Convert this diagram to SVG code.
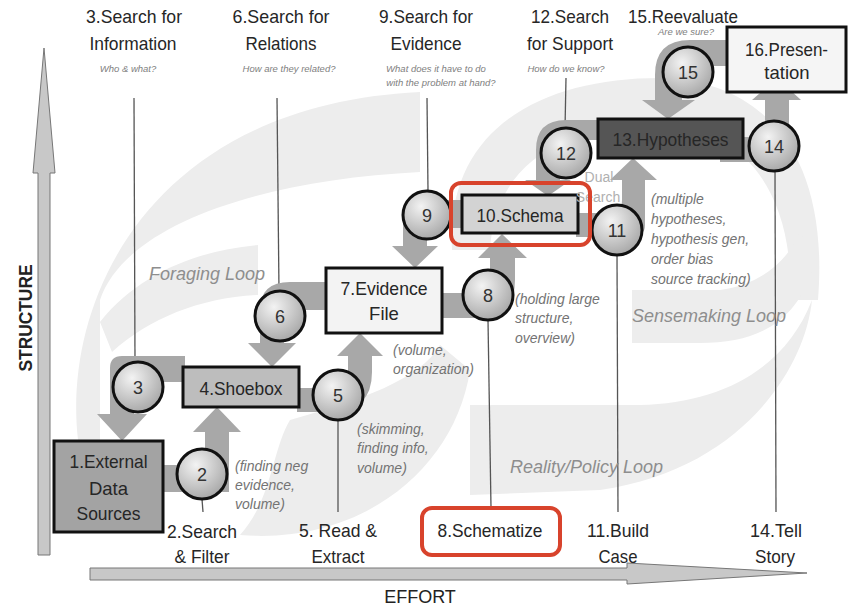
<svg xmlns="http://www.w3.org/2000/svg" width="849" height="607" viewBox="0 0 849 607">
  <defs>
    <radialGradient id="cg" cx="0.38" cy="0.32" r="0.72">
      <stop offset="0" stop-color="#f3f3f3"/>
      <stop offset="1" stop-color="#a6a6a6"/>
    </radialGradient>
    <style>
      text { font-family: "Liberation Sans", Arial, sans-serif; }
      .lbl { font-size: 18.5px; fill: #262626; text-anchor: middle; }
      .sub { font-size: 9.5px; font-style: italic; fill: #808080; text-anchor: middle; }
      .ann { font-size: 14px; font-style: italic; fill: #737373; }
      .loop { font-size: 18px; font-style: italic; fill: #8e8e8e; }
      .num { font-size: 18px; fill: #333; text-anchor: middle; }
      .dual { font-size: 14px; fill: #b0b0b0; text-anchor: middle; }
      .bg { fill: #ededed; }
      .flow { fill: #a8a8a8; }
      .lead { stroke: #555; stroke-width: 1.3; fill: none; }
      .box { stroke: #111; stroke-width: 3; }
      .circ { fill: url(#cg); stroke: #111; stroke-width: 3; }
      .hl { fill: none; stroke: #d8432c; stroke-width: 4; }
      .axis { fill: #c8c8c8; stroke: #777; stroke-width: 1; }
    </style>
  </defs>

  <rect width="849" height="607" fill="#fff"/>

  <!-- background loop bands -->
  <g id="loops">
    <path class="bg" d="M78 440 C62 300 150 105 420 92 L420 172 C260 180 125 225 100 300 L100 440 Z"/>
    <path class="bg" d="M100 322 C140 272 200 250 258 245 L258 295 C200 298 150 318 112 352 Z"/>
    <path class="bg" d="M240 535 C360 545 455 470 470 370 L440 345 C420 380 360 400 290 420 C272 450 272 500 240 535 Z"/>
    <path class="bg" d="M452 250 C445 130 540 78 660 78 C760 80 830 150 818 300 L790 300 C795 190 740 125 660 125 C560 125 495 165 490 250 Z"/>
    <path class="bg" d="M632 290 L720 290 C760 285 790 260 800 230 L814 262 C800 320 760 343 700 343 L632 343 Z"/>
    <path class="bg" d="M470 405 L640 405 C720 403 785 370 812 300 C805 370 740 470 600 490 L470 495 Z"/>
  </g>

  <!-- axes -->
  <g id="axes">
    <polygon class="axis" points="38,555 38,173 33,173 44,48 55,173 50,173 50,555"/>
    <polygon class="axis" points="90,568 627,568 627,563 807,573 627,584 627,580 90,580"/>
    <text transform="translate(32,318) rotate(-90)" text-anchor="middle" font-size="19" font-weight="bold" fill="#222" textLength="107" lengthAdjust="spacingAndGlyphs">STRUCTURE</text>
    <text x="420" y="603" text-anchor="middle" font-size="18" fill="#222">EFFORT</text>
  </g>

  <!-- connectors: leader lines and flow arrows -->
  <g id="connectors">
    <line class="lead" x1="134" y1="98" x2="135" y2="363"/>
    <line class="lead" x1="277" y1="98" x2="279" y2="292"/>
    <line class="lead" x1="427" y1="98" x2="428" y2="191"/>
    <line class="lead" x1="566" y1="78" x2="565" y2="129"/>
    <line class="lead" x1="202" y1="499" x2="203" y2="512"/>
    <line class="lead" x1="338" y1="420" x2="338" y2="512"/>
    <line class="lead" x1="488" y1="320" x2="491" y2="508"/>
    <line class="lead" x1="617" y1="254" x2="618" y2="512"/>
    <line class="lead" x1="775" y1="170" x2="776" y2="512"/>

    <!-- 4 -> 3 -> 1 -->
    <path class="flow" d="M185 356 L122 356 Q110 356 110 368 L110 414 L97 414 L122 441 L147 414 L134 414 L134 382 L185 382 Z"/>
    <!-- 1 -> 2 -> 4 -->
    <path class="flow" d="M160 465 L205 465 L205 432 L193 432 L217 407 L241 432 L229 432 L229 492 L160 492 Z"/>
    <!-- 7 -> 6 -> 4 -->
    <path class="flow" d="M327 282 L290 282 Q260 282 260 310 L260 343 L248 343 L272 367 L296 343 L284 343 L284 310 L327 310 Z"/>
    <!-- 4 -> 5 -> 7 -->
    <path class="flow" d="M297 388 L330 388 Q348 388 348 370 L348 356 L337 356 L360 333 L383 356 L372 356 L372 372 Q372 412 330 412 L297 412 Z"/>
    <!-- 10 -> 9 -> 7 -->
    <path class="flow" d="M464 200 L430 200 Q403 200 403 228 L403 246 L392 246 L415 268 L438 246 L427 246 L427 228 L464 228 Z"/>
    <!-- 7 -> 8 -> 10 -->
    <path class="flow" d="M440 293 L470 293 Q490 293 490 275 L490 258 L478 258 L502 234 L527 258 L515 258 L515 280 Q515 318 475 318 L440 318 Z"/>
    <!-- 13 -> 12 -> 10 -->
    <path class="flow" d="M600 120 L566 120 Q536 120 536 150 L536 180 L525 180 L548 196 L571 180 L560 180 L560 140 L600 140 Z"/>
    <!-- 10 -> 11 -> 13 -->
    <path class="flow" d="M576 213 L610 213 Q622 213 622 200 L622 180 L610 180 L633 158 L657 180 L645 180 L645 225 Q645 237 630 237 L576 237 Z"/>
    <!-- 16 -> 15 -> 13 -->
    <path class="flow" d="M729 40 L690 40 Q655 40 655 75 L655 100 L642 100 L668 119 L695 100 L682 100 L682 80 Q682 66 700 66 L729 66 Z"/>
    <!-- 13 -> 14 -> 16 -->
    <path class="flow" d="M720 137 L765 137 L765 100 L752 100 L777 78 L801 100 L789 100 L789 162 L720 162 Z"/>
  </g>

  <!-- boxes -->
  <g id="n1">
    <rect class="box" x="54" y="441" width="109" height="91" fill="#a3a3a3"/>
    <text class="lbl" x="108.5" y="468" fill="#333" textLength="78" lengthAdjust="spacingAndGlyphs">1.External</text>
    <text class="lbl" x="108.5" y="495" fill="#333">Data</text>
    <text class="lbl" x="108.5" y="520" fill="#333" textLength="64" lengthAdjust="spacingAndGlyphs">Sources</text>
  </g>
  <g id="n4">
    <rect class="box" x="183" y="367" width="116" height="40" fill="#bdbdbd"/>
    <text class="lbl" x="241" y="395" textLength="83" lengthAdjust="spacingAndGlyphs">4.Shoebox</text>
  </g>
  <g id="n7">
    <rect class="box" x="326" y="268" width="116" height="65" fill="#f3f3f3"/>
    <text class="lbl" x="384" y="295" textLength="87" lengthAdjust="spacingAndGlyphs">7.Evidence</text>
    <text class="lbl" x="384" y="320">File</text>
  </g>
  <g id="n10">
    <rect class="box" x="462" y="195" width="116" height="38" fill="#d3d3d3"/>
    <text class="lbl" x="520" y="222" font-size="20" textLength="87" lengthAdjust="spacingAndGlyphs">10.Schema</text>
  </g>
  <g id="n13">
    <rect class="box" x="598" y="119" width="145" height="39" fill="#555"/>
    <text class="lbl" x="670.5" y="146" fill="#2a2a2a" textLength="116" lengthAdjust="spacingAndGlyphs">13.Hypotheses</text>
  </g>
  <g id="n16">
    <rect class="box" x="727" y="27" width="119" height="65" fill="#f5f5f5"/>
    <text class="lbl" x="786.5" y="56" textLength="83" lengthAdjust="spacingAndGlyphs">16.Presen-</text>
    <text class="lbl" x="787" y="79">tation</text>
  </g>

  <!-- process circles -->
  <g id="c2"><circle class="circ" cx="202" cy="474" r="25"/><text class="num" x="202" y="480.5">2</text></g>
  <g id="c3"><circle class="circ" cx="138" cy="387" r="25"/><text class="num" x="138" y="393.5">3</text></g>
  <g id="c5"><circle class="circ" cx="338" cy="395" r="25"/><text class="num" x="338" y="401.5">5</text></g>
  <g id="c6"><circle class="circ" cx="280" cy="316" r="25"/><text class="num" x="280" y="322.5">6</text></g>
  <g id="c8"><circle class="circ" cx="488" cy="295" r="25"/><text class="num" x="488" y="301.5">8</text></g>
  <g id="c9"><circle class="circ" cx="427" cy="215" r="24"/><text class="num" x="427" y="221.5">9</text></g>
  <g id="c11"><circle class="circ" cx="617" cy="230" r="25"/><text class="num" x="617" y="236.5">11</text></g>
  <g id="c12"><circle class="circ" cx="566" cy="153" r="25"/><text class="num" x="566" y="159.5">12</text></g>
  <g id="c14"><circle class="circ" cx="774" cy="146" r="25"/><text class="num" x="774" y="152.5">14</text></g>
  <g id="c15"><circle class="circ" cx="688" cy="72" r="25"/><text class="num" x="688" y="78.5">15</text></g>

  <!-- step labels -->
  <g id="labels">
    <text class="lbl" x="134" y="23" textLength="96" lengthAdjust="spacingAndGlyphs">3.Search for</text>
    <text class="lbl" x="133" y="50" textLength="87" lengthAdjust="spacingAndGlyphs">Information</text>
    <text class="sub" x="128" y="72">Who &amp; what?</text>

    <text class="lbl" x="281" y="23" textLength="97" lengthAdjust="spacingAndGlyphs">6.Search for</text>
    <text class="lbl" x="281" y="50" textLength="71" lengthAdjust="spacingAndGlyphs">Relations</text>
    <text class="sub" x="289" y="72">How are they related?</text>

    <text class="lbl" x="426" y="23" textLength="94" lengthAdjust="spacingAndGlyphs">9.Search for</text>
    <text class="lbl" x="426" y="50" textLength="71" lengthAdjust="spacingAndGlyphs">Evidence</text>
    <text class="sub" x="436" y="72">What does it have to do</text>
    <text class="sub" x="441" y="86">with the problem at hand?</text>

    <text class="lbl" x="570" y="23" textLength="78" lengthAdjust="spacingAndGlyphs">12.Search</text>
    <text class="lbl" x="570" y="50" textLength="86" lengthAdjust="spacingAndGlyphs">for Support</text>
    <text class="sub" x="566" y="72">How do we know?</text>

    <text class="lbl" x="683" y="23" textLength="110" lengthAdjust="spacingAndGlyphs">15.Reevaluate</text>
    <text class="sub" x="686" y="35" font-size="8.5">Are we sure?</text>

    <text class="lbl" x="202" y="538" textLength="70" lengthAdjust="spacingAndGlyphs">2.Search</text>
    <text class="lbl" x="202" y="563" textLength="55" lengthAdjust="spacingAndGlyphs">&amp; Filter</text>
    <text class="lbl" x="338" y="537" textLength="78" lengthAdjust="spacingAndGlyphs">5. Read &amp;</text>
    <text class="lbl" x="338" y="563" textLength="53" lengthAdjust="spacingAndGlyphs">Extract</text>
    <text class="lbl" x="490" y="537" textLength="105" lengthAdjust="spacingAndGlyphs">8.Schematize</text>
    <text class="lbl" x="618" y="537" textLength="62" lengthAdjust="spacingAndGlyphs">11.Build</text>
    <text class="lbl" x="618" y="563" textLength="39" lengthAdjust="spacingAndGlyphs">Case</text>
    <text class="lbl" x="776" y="537" textLength="52" lengthAdjust="spacingAndGlyphs">14.Tell</text>
    <text class="lbl" x="775" y="563" textLength="40" lengthAdjust="spacingAndGlyphs">Story</text>
  </g>

  <!-- notes and loop names -->
  <g id="notes">
    <text class="ann" x="235" y="471">(finding neg</text>
    <text class="ann" x="235" y="490">evidence,</text>
    <text class="ann" x="235" y="509">volume)</text>

    <text class="ann" x="357" y="434">(skimming,</text>
    <text class="ann" x="357" y="453">finding info,</text>
    <text class="ann" x="357" y="473">volume)</text>

    <text class="ann" x="393" y="355">(volume,</text>
    <text class="ann" x="393" y="374">organization)</text>

    <text class="ann" x="515" y="304">(holding large</text>
    <text class="ann" x="515" y="323">structure,</text>
    <text class="ann" x="515" y="343">overview)</text>

    <text class="ann" x="651" y="204">(multiple</text>
    <text class="ann" x="651" y="224">hypotheses,</text>
    <text class="ann" x="651" y="244">hypothesis gen,</text>
    <text class="ann" x="651" y="264">order bias</text>
    <text class="ann" x="651" y="284">source tracking)</text>

    <text class="dual" x="599" y="182">Dual</text>
    <text class="dual" x="598" y="202">Search</text>

    <text class="loop" x="149" y="280">Foraging Loop</text>
    <text class="loop" x="632" y="322">Sensemaking Loop</text>
    <text class="loop" x="510" y="473">Reality/Policy Loop</text>
  </g>

  <!-- highlight frames -->
  <g id="highlights">
    <rect class="hl" x="451" y="183" width="139" height="62" rx="10"/>
    <rect class="hl" x="422" y="508" width="138" height="47" rx="10"/>
  </g>
</svg>
